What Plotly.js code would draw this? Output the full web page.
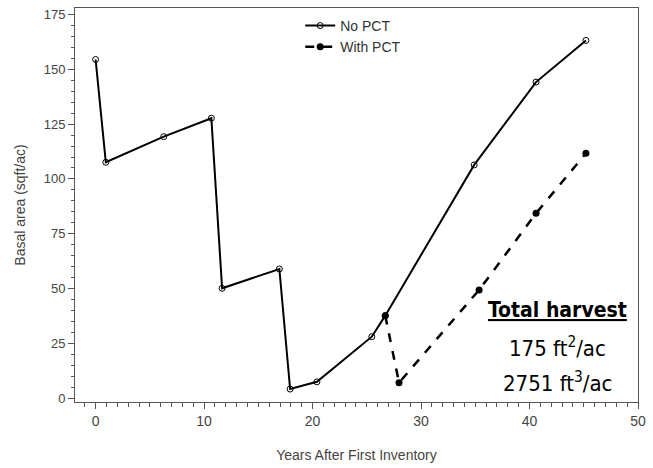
<!DOCTYPE html>
<html><head><meta charset="utf-8">
<script src="https://cdn.plot.ly/plotly-3.0.1.min.js"></script>
<style>html,body{margin:0;padding:0;background:#fff}#chart{width:653px;height:468px}</style>
</head><body><div id="chart"></div>
<script>
const noPctYears = [0, 0.94, 6.28, 10.67, 11.66, 16.94, 17.93, 20.4, 25.46, 26.7, 34.9, 40.6, 45.2];
const noPctBasal = [154.5, 107.6, 119.3, 127.7, 50.1, 58.9, 4.1, 7.4, 28, 37.6, 106.4, 144.2, 163.2];
const withPctYears = [26.7, 27.97, 35.35, 40.6, 45.2];
const withPctBasal = [37.6, 7.0, 49.3, 84.3, 111.7];
const seriesNames = ["No PCT", "With PCT"];
const harvestLines = ["<b><span style=\"text-decoration:underline\">Total harvest</span></b>", "175 ft<sup>2</sup>/ac", "2751 ft<sup>3</sup>/ac"];

const font = "Liberation Sans, Arial, sans-serif";
const narrow = "DejaVu Sans Condensed, Liberation Sans Narrow, Arial Narrow, sans-serif";

const traces = [
  {x: noPctYears, y: noPctBasal, name: seriesNames[0], mode: "lines+markers",
   line: {color: "#000", width: 2}, marker: {symbol: "circle-open", size: 6, color: "#000", line: {width: 1}}},
  {x: withPctYears, y: withPctBasal, name: seriesNames[1], mode: "lines+markers",
   line: {color: "#000", width: 2.5, dash: "dash"}, marker: {symbol: "circle", size: 7, color: "#000"}}
];

const layout = {
  width: 653, height: 468,
  margin: {l: 75, r: 15, t: 8, b: 66},
  paper_bgcolor: "#fff", plot_bgcolor: "#fff",
  font: {family: font, color: "#333", size: 13},
  showlegend: true,
  legend: {x: 0.40, y: 0.995, xanchor: "left", yanchor: "top", bgcolor: "rgba(0,0,0,0)",
           font: {size: 14, color: "#333"}, tracegroupgap: 0, itemwidth: 30},
  xaxis: {range: [-1.9, 50], tickvals: [0, 10, 20, 30, 40, 50], ticks: "outside", ticklen: 6, tickcolor: "#555",
          showgrid: false, zeroline: false, showline: true, linecolor: "#555", linewidth: 1, mirror: true,
          tickfont: {size: 14, color: "#444"},
          minor: {dtick: 1, ticks: "outside", ticklen: 4, tickcolor: "#555", showgrid: false},
          title: {text: "Years After First Inventory", font: {size: 14, color: "#444"}, standoff: 22}},
  yaxis: {range: [-1.8, 178], tickvals: [0, 25, 50, 75, 100, 125, 150, 175], ticks: "outside", ticklen: 6, tickcolor: "#555",
          showgrid: false, zeroline: false, showline: true, linecolor: "#555", linewidth: 1, mirror: true,
          tickfont: {size: 13, color: "#444"},
          minor: {dtick: 5, ticks: "outside", ticklen: 3, tickcolor: "#555", showgrid: false},
          title: {text: "Basal area (sqft/ac)", font: {size: 14, color: "#444"}, standoff: 14}},
  annotations: [
    {xref: "paper", yref: "paper", x: (557-75)/563, y: (402-310)/394, xanchor: "center", yanchor: "middle",
     text: harvestLines[0], showarrow: false, font: {family: narrow, size: 21, color: "#000"}},
    {xref: "paper", yref: "paper", x: (557-75)/563, y: (402-347)/394, xanchor: "center", yanchor: "middle",
     text: harvestLines[1], showarrow: false, font: {family: narrow, size: 22, color: "#000"}},
    {xref: "paper", yref: "paper", x: (557-75)/563, y: (402-382)/394, xanchor: "center", yanchor: "middle",
     text: harvestLines[2], showarrow: false, font: {family: narrow, size: 22, color: "#000"}}
  ]
};
Plotly.newPlot("chart", traces, layout, {displayModeBar: false, staticPlot: true});
</script></body></html>
